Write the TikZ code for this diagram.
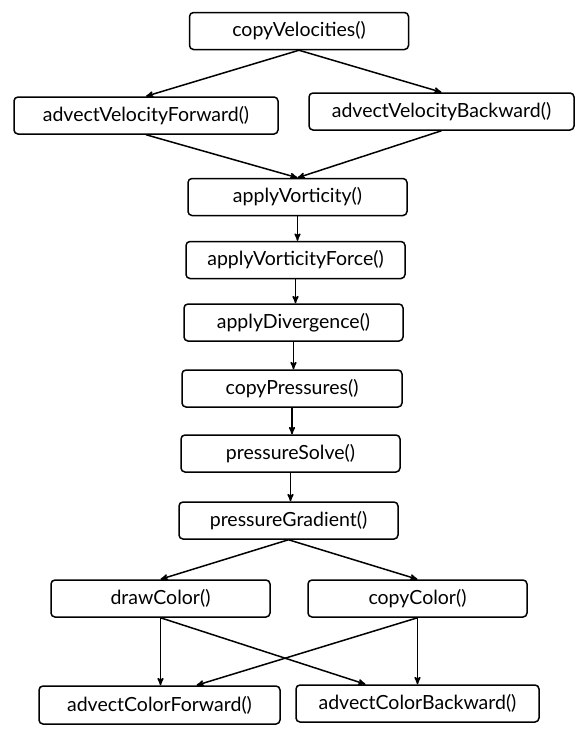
\documentclass[tikz,border=0pt]{standalone}
\usepackage{fontspec}
\setmainfont{Lato}
\usetikzlibrary{arrows}

\begin{document}
\begin{tikzpicture}[->,>=stealth',line width=1.5pt,x=1pt,y=-1pt]
  \tikzstyle{func}=[draw,rounded corners=4pt,inner sep=0pt,minimum width=219pt,
                    minimum height=37pt,font=\fontsize{19.5}{22}\selectfont]
  \useasboundingbox (0,0) rectangle (586,739);

  \node[func] (cv)   at (299,31)    {copyVelocities()};
  \node[func,minimum width=264pt] (avf) at (146,115.5)  {advectVelocityForward()};
  \node[func,minimum width=265pt] (avb) at (441.5,111.5) {advectVelocityBackward()};
  \node[func] (av)   at (297.5,197) {applyVorticity()};
  \node[func] (avfo) at (295.5,260) {applyVorticityForce()};
  \node[func] (ad)   at (293.5,322.5) {applyDivergence()};
  \node[func,minimum width=220pt] (cp) at (292,388.5) {copyPressures()};
  \node[func] (ps)   at (290.5,453.5) {pressureSolve()};
  \node[func] (pg)   at (288.5,520.5) {pressureGradient()};
  \node[func] (dc)   at (160.5,598.5) {drawColor()};
  \node[func] (cc)   at (417.5,598.5) {copyColor()};
  \node[func,minimum width=241pt,minimum height=38pt] (acf) at (159.5,705) {advectColorForward()};
  \node[func,minimum width=243pt] (acb) at (417.5,703.5) {advectColorBackward()};

  \path (cv.south)   edge (avf.north)
        (cv.south)   edge (avb.north)
        (avf.south)  edge (av.north)
        (avb.south)  edge (av.north)
        (av.south)   edge (av.south |- avfo.north)
        (avfo.south) edge (avfo.south |- ad.north)
        (ad.south)   edge (ad.south |- cp.north)
        (cp.south)   edge (cp.south |- ps.north)
        (ps.south)   edge (ps.south |- pg.north)
        (pg.south)   edge (dc.north)
        (pg.south)   edge (cc.north)
        (dc.south)   edge (dc.south |- acf.north)
        (dc.south)   edge ([xshift=-52pt]acb.north)
        (cc.south)   edge (cc.south |- acb.north)
        (cc.south)   edge ([xshift=37pt]acf.north);
\end{tikzpicture}
\end{document}
